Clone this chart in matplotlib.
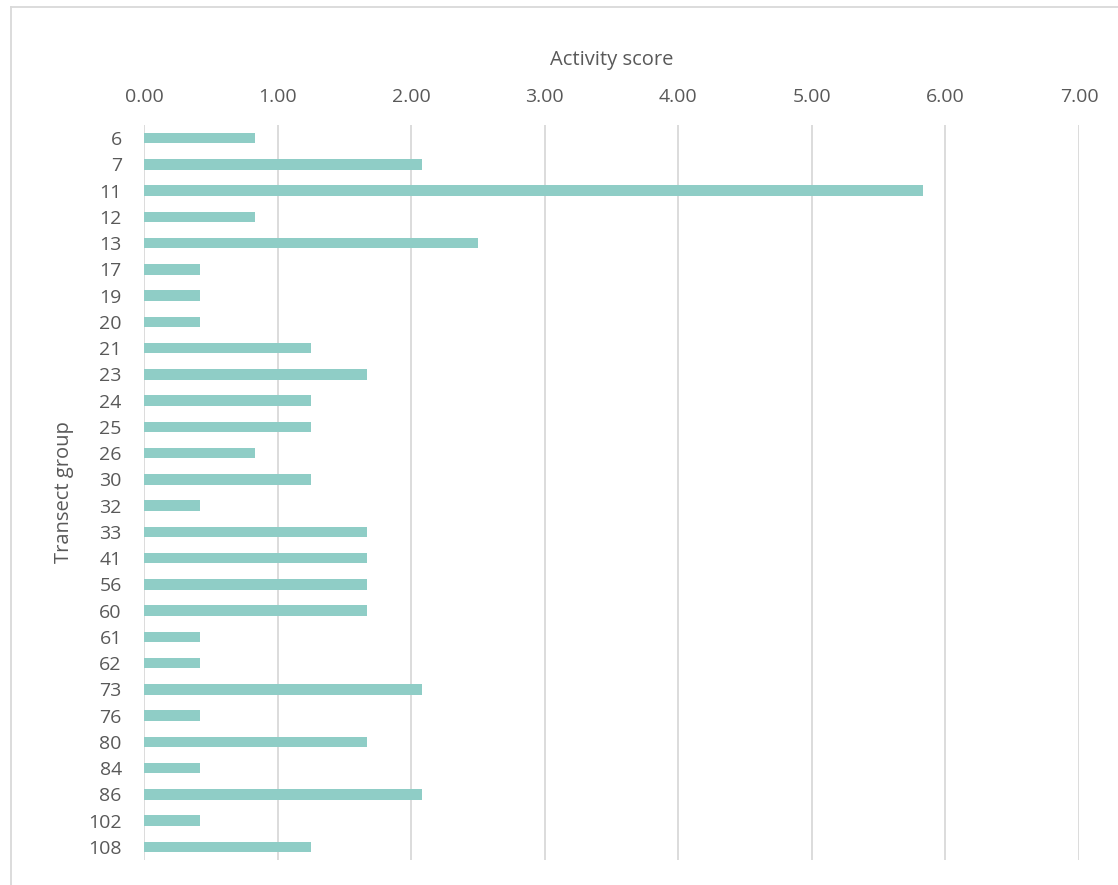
import matplotlib
matplotlib.use("Agg")
import matplotlib.pyplot as plt
from matplotlib.lines import Line2D

groups = ["6", "7", "11", "12", "13", "17", "19", "20", "21", "23", "24", "25", "26", "30",
          "32", "33", "41", "56", "60", "61", "62", "73", "76", "80", "84", "86", "102", "108"]
scores = [0.83, 2.08, 5.83, 0.83, 2.50, 0.42, 0.42, 0.42, 1.25, 1.67, 1.25, 1.25, 0.83, 1.25,
          0.42, 1.67, 1.67, 1.67, 1.67, 0.42, 0.42, 2.08, 0.42, 1.67, 0.42, 2.08, 0.42, 1.25]
xticks = [0, 1, 2, 3, 4, 5, 6, 7]

plt.rcParams['font.family'] = ['Open Sans', 'DejaVu Sans']
text_color = '#595959'

W, H = 1118, 885
fig = plt.figure(figsize=(W / 100, H / 100), dpi=100)
ax = fig.add_axes([144 / W, 1 - 860 / H, (1079 - 144) / W, (860 - 125) / H])

ypos = list(range(len(groups)))
ax.barh(ypos, scores, height=0.4, color='#8FCDC6', edgecolor='none', zorder=3)

ax.set_xlim(0, 7)
ax.set_ylim(len(groups) - 0.5, -0.5)
ax.set_xticks(xticks)
ax.set_xticklabels([f"{v:.2f}" for v in xticks])
ax.set_yticks(ypos)
ax.set_yticklabels(groups)
ax.xaxis.tick_top()
ax.xaxis.set_label_position('top')
ax.tick_params(axis='x', length=0, pad=13.5, labelsize=14, colors=text_color)
ax.tick_params(axis='y', length=0, pad=16, labelsize=14, colors=text_color)
ax.grid(axis='x', color='#D9D9D9', linewidth=1.3, zorder=0)
for s in ax.spines.values():
    s.set_visible(False)

ax.set_xlabel('Activity score', fontsize=14.5, color=text_color, labelpad=17)
ax.set_ylabel('Transect group', fontsize=14.5, color=text_color, labelpad=10)

# chart-area border (Excel-style)
fig.add_artist(Line2D([11 / W, 1], [1 - 7 / H, 1 - 7 / H], transform=fig.transFigure,
                      color='#D9D9D9', linewidth=1.3))
fig.add_artist(Line2D([11 / W, 11 / W], [1 - 7 / H, 0], transform=fig.transFigure,
                      color='#D9D9D9', linewidth=1.3))

fig.savefig('out.png', dpi=100, facecolor='white')
